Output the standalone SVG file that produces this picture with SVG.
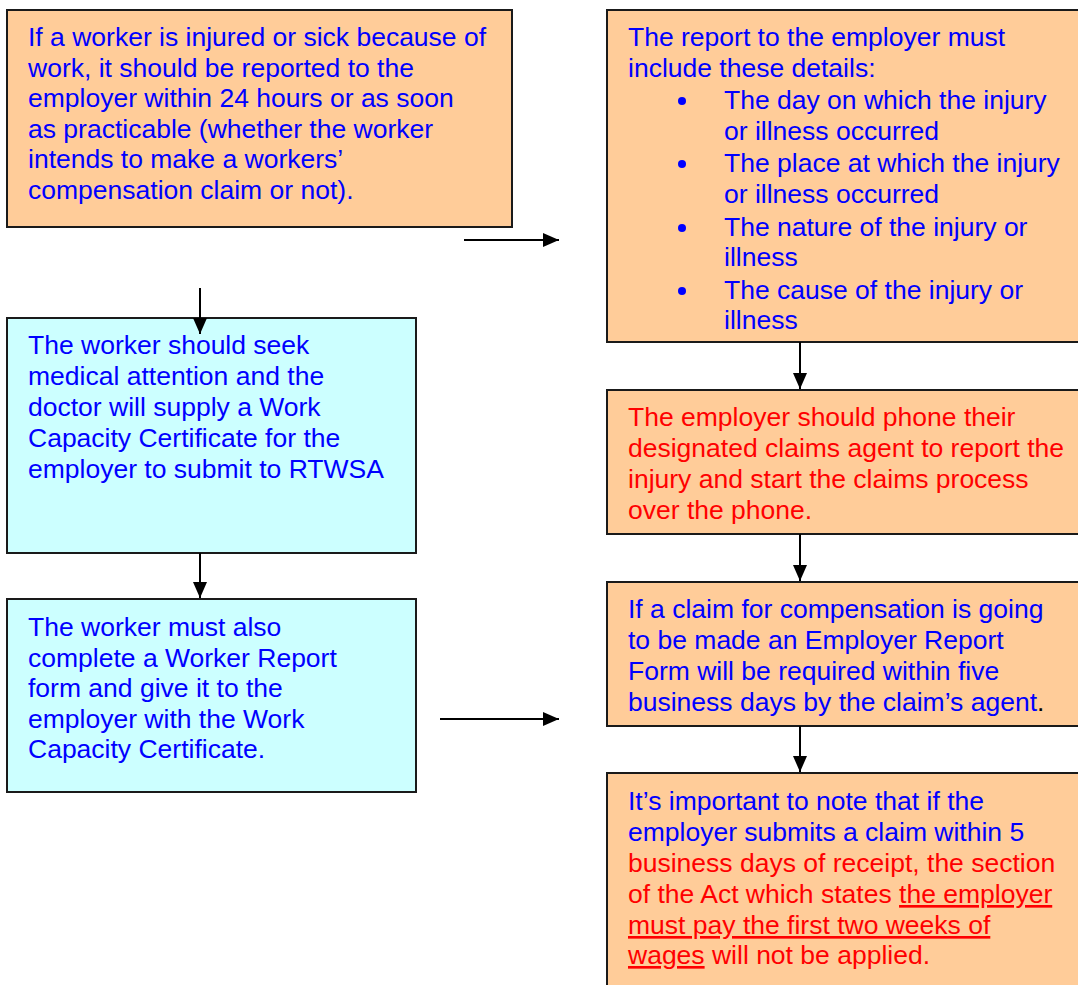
<svg xmlns="http://www.w3.org/2000/svg" width="1078" height="985" viewBox="0 0 1078 985">
<style>
.box{stroke:#1a1a1a;stroke-width:2}
.or{fill:#FFCC99}
.cy{fill:#CCFFFF}
text{font-family:"Liberation Sans",Arial,sans-serif;font-size:26.5px}
.b{fill:#0000FF}
.r{fill:#FF0000}
.k{fill:#000000}
.u{text-decoration:underline}
.c{stroke:#000;stroke-width:2;fill:none}
</style>
<defs>
<marker id="ah" viewBox="0 0 16 14" refX="16" refY="7" markerWidth="16" markerHeight="14" markerUnits="userSpaceOnUse" orient="auto">
<path d="M0,0 L16,7 L0,14 z" fill="#000"/>
</marker>
</defs>
<g id="n1">
<rect class="box or" x="7" y="10" width="505" height="217"/>
<text class="b" x="28" y="46">If a worker is injured or sick because of</text>
<text class="b" x="28" y="76.5">work, it should be reported to the</text>
<text class="b" x="28" y="107">employer within 24 hours or as soon</text>
<text class="b" x="28" y="137.5">as practicable (whether the worker</text>
<text class="b" x="28" y="168">intends to make a workers’</text>
<text class="b" x="28" y="198.5">compensation claim or not).</text>
</g>
<g id="n2">
<rect class="box cy" x="7" y="318" width="409" height="235"/>
<text class="b" x="28" y="354">The worker should seek</text>
<text class="b" x="28" y="385">medical attention and the</text>
<text class="b" x="28" y="416">doctor will supply a Work</text>
<text class="b" x="28" y="447">Capacity Certificate for the</text>
<text class="b" x="28" y="478">employer to submit to RTWSA</text>
</g>
<g id="n3">
<rect class="box cy" x="7" y="599" width="409" height="193"/>
<text class="b" x="28" y="636">The worker must also</text>
<text class="b" x="28" y="667">complete a Worker Report</text>
<text class="b" x="28" y="697">form and give it to the</text>
<text class="b" x="28" y="728">employer with the Work</text>
<text class="b" x="28" y="758">Capacity Certificate.</text>
</g>
<g id="n4">
<rect class="box or" x="607" y="10" width="490" height="332"/>
<text class="b" x="628" y="46">The report to the employer must</text>
<text class="b" x="628" y="77">include these details:</text>
<circle class="b" cx="682" cy="101" r="4"/>
<text class="b" x="724" y="109">The day on which the injury</text>
<text class="b" x="724" y="140">or illness occurred</text>
<circle class="b" cx="682" cy="164" r="4"/>
<text class="b" x="724" y="172">The place at which the injury</text>
<text class="b" x="724" y="203">or illness occurred</text>
<circle class="b" cx="682" cy="228" r="4"/>
<text class="b" x="724" y="236">The nature of the injury or</text>
<text class="b" x="724" y="266">illness</text>
<circle class="b" cx="682" cy="291" r="4"/>
<text class="b" x="724" y="299">The cause of the injury or</text>
<text class="b" x="724" y="329">illness</text>
</g>
<g id="n5">
<rect class="box or" x="607" y="390" width="490" height="144"/>
<text class="r" x="628" y="426">The employer should phone their</text>
<text class="r" x="628" y="457">designated claims agent to report the</text>
<text class="r" x="628" y="488">injury and start the claims process</text>
<text class="r" x="628" y="519">over the phone.</text>
</g>
<g id="n6">
<rect class="box or" x="607" y="582" width="490" height="144"/>
<text class="b" x="628" y="618">If a claim for compensation is going</text>
<text class="b" x="628" y="649">to be made an Employer Report</text>
<text class="b" x="628" y="680">Form will be required within five</text>
<text class="b" x="628" y="711">business days by the claim’s agent<tspan class="k">.</tspan></text>
</g>
<g id="n7">
<rect class="box or" x="607" y="773" width="490" height="230"/>
<text class="b" x="628" y="810">It’s important to note that if the</text>
<text class="b" x="628" y="841">employer submits a claim within 5</text>
<text class="r" x="628" y="872">business days of receipt, the section</text>
<text class="r" x="628" y="903">of the Act which states <tspan class="u">the employer</tspan></text>
<text class="r u" x="628" y="934">must pay the first two weeks of</text>
<text class="r" x="628" y="964"><tspan class="u">wages</tspan> will not be applied.</text>
</g>
<g id="connectors">
<line class="c" x1="200" y1="288" x2="200" y2="334" marker-end="url(#ah)"/>
<line class="c" x1="200" y1="553" x2="200" y2="598" marker-end="url(#ah)"/>
<line class="c" x1="464" y1="240" x2="559" y2="240" marker-end="url(#ah)"/>
<line class="c" x1="440" y1="719" x2="559" y2="719" marker-end="url(#ah)"/>
<line class="c" x1="800" y1="342" x2="800" y2="389" marker-end="url(#ah)"/>
<line class="c" x1="800" y1="534" x2="800" y2="581" marker-end="url(#ah)"/>
<line class="c" x1="800" y1="726" x2="800" y2="772" marker-end="url(#ah)"/>
</g>
</svg>
